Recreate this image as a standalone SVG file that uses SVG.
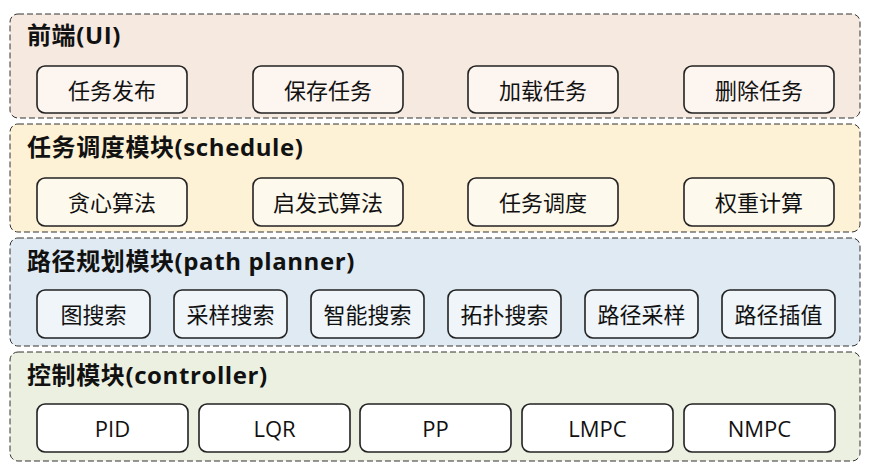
<svg xmlns="http://www.w3.org/2000/svg" width="870" height="470" viewBox="0 0 870 470">
<style>
.layer{stroke:#333;stroke-width:1;stroke-dasharray:6,3}
.box{stroke:#222;stroke-width:1.6}
.t{font-family:"Open Sans","Noto Sans CJK SC",sans-serif;font-weight:bold;font-size:24px;letter-spacing:0.6px;fill:#111}
.b{font-family:"Open Sans","Noto Sans CJK SC",sans-serif;font-size:22px;fill:#111;text-anchor:middle;dominant-baseline:central}
</style>
<rect width="870" height="470" fill="#fff"/>
<g id="ui">
<rect class="layer" x="10" y="14" width="850" height="104" rx="8" fill="#f6e9e0"/>
<text class="t" x="27" y="44">前端(UI)</text>
<rect class="box" x="37" y="66" width="150" height="47" rx="8" fill="#fcf5f0"/><text class="b" x="112" y="90">任务发布</text>
<rect class="box" x="253" y="66" width="150" height="47" rx="8" fill="#fcf5f0"/><text class="b" x="328" y="90">保存任务</text>
<rect class="box" x="468" y="66" width="150" height="47" rx="8" fill="#fcf5f0"/><text class="b" x="543" y="90">加载任务</text>
<rect class="box" x="684" y="66" width="150" height="47" rx="8" fill="#fcf5f0"/><text class="b" x="759" y="90">删除任务</text>
</g>
<g id="schedule">
<rect class="layer" x="10" y="124" width="850" height="108" rx="8" fill="#fdf1d6"/>
<text class="t" x="27" y="156">任务调度模块(schedule)</text>
<rect class="box" x="37" y="178" width="150" height="48" rx="8" fill="#fef9ed"/><text class="b" x="112" y="202">贪心算法</text>
<rect class="box" x="253" y="178" width="150" height="48" rx="8" fill="#fef9ed"/><text class="b" x="328" y="202">启发式算法</text>
<rect class="box" x="468" y="178" width="150" height="48" rx="8" fill="#fef9ed"/><text class="b" x="543" y="202">任务调度</text>
<rect class="box" x="684" y="178" width="150" height="48" rx="8" fill="#fef9ed"/><text class="b" x="759" y="202">权重计算</text>
</g>
<g id="planner">
<rect class="layer" x="10" y="238" width="850" height="108" rx="8" fill="#dfeaf2"/>
<text class="t" x="27" y="270">路径规划模块(path planner)</text>
<rect class="box" x="37" y="290" width="113" height="48" rx="8" fill="#eff5f9"/><text class="b" x="93.5" y="314">图搜索</text>
<rect class="box" x="174" y="290" width="113" height="48" rx="8" fill="#eff5f9"/><text class="b" x="230.5" y="314">采样搜索</text>
<rect class="box" x="311" y="290" width="113" height="48" rx="8" fill="#eff5f9"/><text class="b" x="367.5" y="314">智能搜索</text>
<rect class="box" x="448" y="290" width="113" height="48" rx="8" fill="#eff5f9"/><text class="b" x="504.5" y="314">拓扑搜索</text>
<rect class="box" x="585" y="290" width="113" height="48" rx="8" fill="#eff5f9"/><text class="b" x="641.5" y="314">路径采样</text>
<rect class="box" x="722" y="290" width="113" height="48" rx="8" fill="#eff5f9"/><text class="b" x="778.5" y="314">路径插值</text>
</g>
<g id="controller">
<rect class="layer" x="10" y="352" width="850" height="109" rx="8" fill="#ebf0e0"/>
<text class="t" x="27" y="384">控制模块(controller)</text>
<rect class="box" x="37" y="404" width="151" height="48" rx="8" fill="#fff"/><text class="b" x="112.5" y="428">PID</text>
<rect class="box" x="199" y="404" width="151" height="48" rx="8" fill="#fff"/><text class="b" x="274.5" y="428">LQR</text>
<rect class="box" x="360" y="404" width="151" height="48" rx="8" fill="#fff"/><text class="b" x="435.5" y="428">PP</text>
<rect class="box" x="522" y="404" width="151" height="48" rx="8" fill="#fff"/><text class="b" x="597.5" y="428">LMPC</text>
<rect class="box" x="684" y="404" width="151" height="48" rx="8" fill="#fff"/><text class="b" x="759.5" y="428">NMPC</text>
</g>
<g id="connectors"></g>
</svg>
